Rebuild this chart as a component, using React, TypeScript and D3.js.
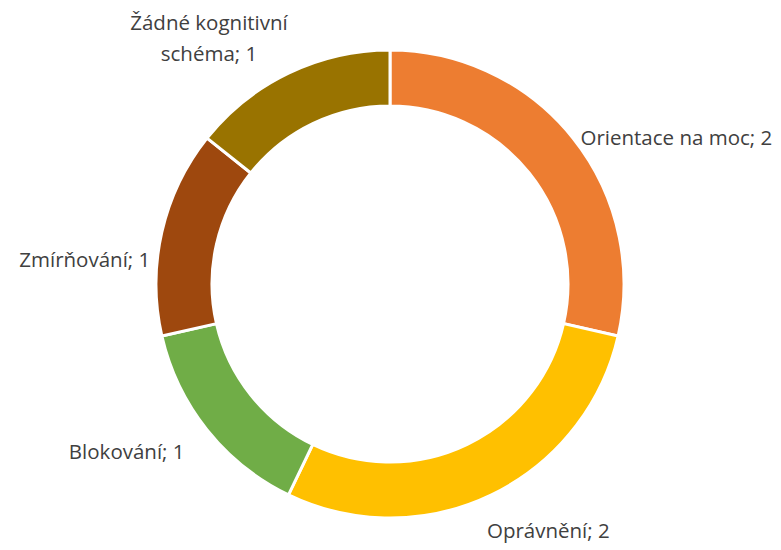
import React from "react";
import * as d3 from "d3";

const categories = ["Orientace na moc", "Oprávnění", "Blokování", "Zmírňování", "Žádné kognitivní schéma"];
const values = [2, 2, 1, 1, 1];
const colors = ["#ED7D31", "#FFC000", "#70AD47", "#9E480E", "#997300"];
const labelLines = [["Orientace na moc; 2"], ["Oprávnění; 2"], ["Blokování; 1"], ["Zmírňování; 1"], ["Žádné kognitivní", "schéma; 1"]];

const W = 781, H = 550;
const cx = 390, cy = 284;
const outerR = 234, innerR = 178;
const labelR = 250;
const labelLayout = [
  { anchor: "start", dx: -5, dy: 9 },
  { anchor: "start", dx: -11.5, dy: 21 },
  { anchor: "end", dx: -10, dy: 11 },
  { anchor: "end", dx: 4, dy: 31 },
  { anchor: "middle", dx: -72.5, dy: -21.5 },
];

export default function App() {
  const pie = d3.pie<number>().sort(null).value((d) => d);
  const arcs = pie(values);
  const arc = d3.arc<d3.PieArcDatum<number>>().innerRadius(innerR).outerRadius(outerR);
  const lineH = 31;
  return (
    <svg width={W} height={H} style={{ position: "absolute", left: 0, top: 0, background: "#fff" }}>
      <g transform={`translate(${cx},${cy})`}>
        {arcs.map((a, i) => (
          <path key={i} d={arc(a) || ""} fill={colors[i]} stroke="#fff" strokeWidth={3} />
        ))}
      </g>
      {arcs.map((a, i) => {
        const mid = (a.startAngle + a.endAngle) / 2;
        const x = cx + labelR * Math.sin(mid) + labelLayout[i].dx;
        const y = cy - labelR * Math.cos(mid) + labelLayout[i].dy;
        const lines = labelLines[i];
        const y0 = y - ((lines.length - 1) * lineH) / 2;
        return (
          <text key={i} x={x} textAnchor={labelLayout[i].anchor as any} fontFamily="'Open Sans', sans-serif" fontSize={20.5} fill="#404040">
            {lines.map((l, j) => (
              <tspan key={j} x={x} y={y0 + j * lineH} dominantBaseline="central">{l}</tspan>
            ))}
          </text>
        );
      })}
    </svg>
  );
}
